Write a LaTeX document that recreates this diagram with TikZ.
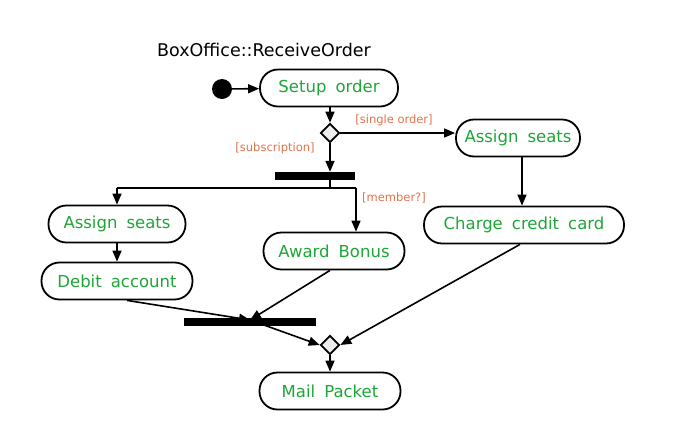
\documentclass[tikz,border=0pt]{standalone}
\usepackage{fontspec}
\setmainfont{DejaVu Sans}
\usetikzlibrary{arrows.meta,shapes.geometric}
\definecolor{actgreen}{RGB}{30,165,55}
\definecolor{guardorange}{RGB}{225,115,75}
\definecolor{diafill}{RGB}{238,238,238}
\newcommand{\actfont}{\fontsize{16.5}{18}\selectfont\spaceskip=0.55em\relax}
\tikzset{
  act/.style={draw=black,line width=1.8pt,rounded corners=18pt,minimum height=37pt,
    text=actgreen,font=\actfont,inner sep=0pt},
  decision/.style={draw=black,line width=1.7pt,diamond,fill=diafill,minimum width=19pt,
    minimum height=19pt,inner sep=0pt},
  bar/.style={fill=black,inner sep=0pt},
  guard/.style={text=guardorange,font=\fontsize{11.5}{13}\selectfont,inner sep=0pt},
  flow/.style={line width=1.6pt,-{Triangle[length=11pt,width=9pt]}},
  plain/.style={line width=1.6pt}
}
\begin{document}
\begin{tikzpicture}[x=1pt,y=-1pt]
\useasboundingbox (0,0) rectangle (680,432);
\node[font=\fontsize{17.5}{19}\selectfont,inner sep=0pt] (title) at (264,50) {BoxOffice::ReceiveOrder};
\node[circle,fill=black,minimum size=20pt,inner sep=0pt] (start) at (222,89) {};
\node[act,minimum width=138pt] (setup) at (329,88) {Setup order};
\node[decision] (d1) at (330,133) {};
\node[act,minimum width=124pt] (as2) at (518,138) {Assign seats};
\node[bar,minimum width=80pt,minimum height=8pt] (fork) at (315,176) {};
\node[act,minimum width=137pt] (as1) at (117,224) {Assign seats};
\node[act,minimum width=151pt] (debit) at (117,281) {Debit account};
\node[act,minimum width=141pt] (award) at (334,251) {Award Bonus};
\node[act,minimum width=200pt] (charge) at (524,225) {Charge credit card};
\node[bar,minimum width=132pt,minimum height=8pt] (join) at (250,322) {};
\node[decision] (d2) at (330,345) {};
\node[act,minimum width=141pt] (mail) at (330,391) {Mail Packet};
\node[guard] (gsingle) at (394,120) {[single order]};
\node[guard] (gsub) at (275,148) {[subscription]};
\node[guard] (gmember) at (394,198) {[member?]};
\coordinate (fk) at (330,188);
\coordinate (fl) at (117,188);
\coordinate (fr) at (356,188);
\coordinate (jin) at (250,320);
\draw[flow] (start) -- (setup);
\draw[flow] (setup.south -| d1) -- (d1.north);
\draw[flow] (d1.east) -- (as2.west |- d1.east);
\draw[flow] (d1.south) -- (fork.north -| d1);
\draw[plain] (fork.south -| fk) -- (fk);
\draw[plain] (fl) -- (fr);
\draw[flow] (fl) -- (as1.north);
\draw[flow] (fr) -- (award.north -| fr);
\draw[flow] (as1) -- (debit);
\draw[flow] (as2.south -| 522,0) -- (charge.north -| 522,0);
\draw[flow] (debit.south -| 127,0) -- (jin);
\draw[flow] (award.south -| 330,0) -- (jin);
\draw[flow] (jin) -- (d2.west);
\draw[flow] (charge.south -| 520,0) -- (d2.east);
\draw[flow] (d2.south) -- (mail.north);
\end{tikzpicture}
\end{document}
